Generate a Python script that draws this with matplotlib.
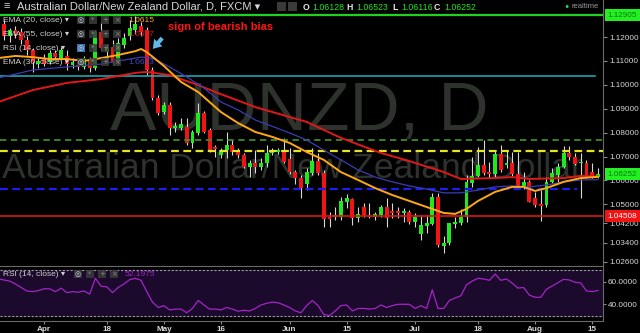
import numpy as np
import pandas as pd
import matplotlib
matplotlib.use("Agg")
import matplotlib.pyplot as plt
import matplotlib.transforms as mtrans
from matplotlib.patches import Rectangle

plt.rcParams['font.family'] = ['Liberation Sans', 'DejaVu Sans']

W, H = 640, 333

# daily AUDNZD candles, 22 Mar 2016 .. 16 Aug 2016 (weekdays)
dates = pd.bdate_range('2016-03-22', '2016-08-16')

opens = [1.1263, 1.1255, 1.1204, 1.1229, 1.1221, 1.1188, 1.1146, 1.1087,
         1.1112, 1.1096, 1.1133, 1.1112, 1.1121, 1.1083, 1.1083, 1.1075, 1.1104, 1.1070,
         1.1221, 1.1137, 1.1158, 1.1096, 1.1167, 1.1204, 1.1229, 1.1246, 1.1229, 1.1062,
         1.0945, 1.0886, 1.0916, 1.0819, 1.0819, 1.0824, 1.0757, 1.0799, 1.0882, 1.0811,
         1.0740, 1.0706, 1.0727, 1.0748, 1.0719, 1.0706, 1.0656, 1.0673, 1.0656, 1.0673,
         1.0715, 1.0719, 1.0723, 1.0690, 1.0635, 1.0610, 1.0585, 1.0631, 1.0681, 1.0631,
         1.0447, 1.0447, 1.0447, 1.0510, 1.0522, 1.0443, 1.0489, 1.0455, 1.0447, 1.0455,
         1.0489, 1.0472, 1.0472, 1.0464, 1.0468, 1.0426, 1.0376, 1.0409, 1.0418, 1.0531,
         1.0326, 1.0338, 1.0418, 1.0422, 1.0447, 1.0589, 1.0619, 1.0665, 1.0635, 1.0627,
         1.0711, 1.0665, 1.0673, 1.0627, 1.0573, 1.0594, 1.0527, 1.0501, 1.0497, 1.0594,
         1.0623, 1.0656, 1.0715, 1.0698, 1.0673, 1.0673, 1.0635, 1.06128]
highs = [1.1280, 1.1271, 1.1238, 1.1246, 1.1238, 1.1204, 1.1154, 1.1112,
         1.1129, 1.1146, 1.1146, 1.1158, 1.1146, 1.1112, 1.1104, 1.1121, 1.1116, 1.1229,
         1.1263, 1.1171, 1.1188, 1.1196, 1.1217, 1.1271, 1.1290, 1.1263, 1.1242, 1.1075,
         1.0958, 1.0928, 1.0928, 1.0845, 1.0861, 1.0861, 1.0811, 1.0924, 1.0891, 1.0819,
         1.0748, 1.0736, 1.0803, 1.0769, 1.0736, 1.0715, 1.0686, 1.0727, 1.0694, 1.0748,
         1.0736, 1.0736, 1.0778, 1.0736, 1.0644, 1.0623, 1.0652, 1.0736, 1.0715, 1.0644,
         1.0468, 1.0489, 1.0531, 1.0543, 1.0527, 1.0489, 1.0506, 1.0506, 1.0468, 1.0497,
         1.0527, 1.0506, 1.0489, 1.0485, 1.0476, 1.0464, 1.0455, 1.0455, 1.0548, 1.0548,
         1.0368, 1.0422, 1.0447, 1.0481, 1.0623, 1.0698, 1.0740, 1.0769, 1.0677, 1.0727,
         1.0748, 1.0727, 1.0719, 1.0719, 1.0635, 1.0602, 1.0552, 1.0560, 1.0614, 1.0652,
         1.0673, 1.0744, 1.0744, 1.0715, 1.0715, 1.0686, 1.0673, 1.06523]
lows = [1.1196, 1.1188, 1.1179, 1.1196, 1.1171, 1.1125, 1.1054, 1.1070,
        1.1079, 1.1087, 1.1104, 1.1104, 1.1062, 1.1070, 1.1062, 1.1066, 1.1054, 1.1062,
        1.1146, 1.1091, 1.1083, 1.1087, 1.1154, 1.1188, 1.1213, 1.1204, 1.1041, 1.0937,
        1.0874, 1.0878, 1.0790, 1.0803, 1.0811, 1.0748, 1.0736, 1.0790, 1.0799, 1.0719,
        1.0698, 1.0694, 1.0694, 1.0706, 1.0694, 1.0652, 1.0614, 1.0631, 1.0644, 1.0656,
        1.0706, 1.0711, 1.0673, 1.0627, 1.0585, 1.0527, 1.0560, 1.0623, 1.0623, 1.0405,
        1.0405, 1.0435, 1.0435, 1.0485, 1.0414, 1.0426, 1.0447, 1.0443, 1.0435, 1.0447,
        1.0405, 1.0443, 1.0443, 1.0426, 1.0418, 1.0405, 1.0351, 1.0380, 1.0414, 1.0322,
        1.0296, 1.0330, 1.0401, 1.0414, 1.0426, 1.0573, 1.0614, 1.0623, 1.0610, 1.0614,
        1.0635, 1.0652, 1.0619, 1.0568, 1.0564, 1.0510, 1.0489, 1.0430, 1.0489, 1.0589,
        1.0594, 1.0652, 1.0686, 1.0665, 1.0527, 1.0610, 1.0610, 1.06116]
closes = [1.1213, 1.1204, 1.1229, 1.1213, 1.1188, 1.1146, 1.1096, 1.1100,
          1.1087, 1.1133, 1.1116, 1.1146, 1.1087, 1.1096, 1.1075, 1.1108, 1.1070, 1.1221,
          1.1154, 1.1154, 1.1096, 1.1175, 1.1196, 1.1238, 1.1255, 1.1221, 1.1062, 1.0945,
          1.0882, 1.0916, 1.0819, 1.0828, 1.0836, 1.0757, 1.0803, 1.0882, 1.0803, 1.0727,
          1.0732, 1.0727, 1.0748, 1.0719, 1.0706, 1.0656, 1.0673, 1.0656, 1.0673, 1.0715,
          1.0727, 1.0727, 1.0677, 1.0635, 1.0610, 1.0568, 1.0635, 1.0681, 1.0631, 1.0439,
          1.0439, 1.0455, 1.0514, 1.0527, 1.0443, 1.0460, 1.0455, 1.0447, 1.0460, 1.0489,
          1.0443, 1.0464, 1.0464, 1.0472, 1.0426, 1.0447, 1.0414, 1.0422, 1.0531, 1.0330,
          1.0338, 1.0422, 1.0426, 1.0447, 1.0594, 1.0619, 1.0665, 1.0631, 1.0627, 1.0711,
          1.0644, 1.0673, 1.0627, 1.0573, 1.0594, 1.0510, 1.0497, 1.0493, 1.0594, 1.0631,
          1.0656, 1.0715, 1.0698, 1.0669, 1.0677, 1.0614, 1.0614, 1.06252]

# moving averages (bar position, value)
ema20_pos = [0, 3, 6, 9, 12, 15, 18, 21, 24, 25, 26, 29, 32, 35, 37, 39, 42, 45, 48, 51,
             54, 57, 60, 63, 66, 69, 72, 75, 78, 80, 82, 84, 87, 90, 92, 94, 96, 99, 102, 105]
ema20_val = [1.1112, 1.1121, 1.1116, 1.1108, 1.1108, 1.1100, 1.1112, 1.1125, 1.1141, 1.1150,
             1.1137, 1.1079, 1.1012, 1.0970, 1.0928, 1.0886, 1.0840, 1.0803, 1.0782, 1.0757,
             1.0719, 1.0686, 1.0635, 1.0602, 1.0568, 1.0539, 1.0514, 1.0489, 1.0464, 1.0460,
             1.0481, 1.0514, 1.0552, 1.0573, 1.0573, 1.0556, 1.0568, 1.0594, 1.0610, 1.0615]
ema55_pos = [0, 6, 12, 18, 24, 26, 30, 35, 38, 45, 54, 60, 67, 72, 78, 81, 87, 90, 93, 99, 102, 105]
ema55_val = [1.0928, 1.0978, 1.1008, 1.1024, 1.1050, 1.1054, 1.1041, 1.0999, 1.0970, 1.0907,
             1.0845, 1.0778, 1.0715, 1.0681, 1.0635, 1.0606, 1.0610, 1.0614, 1.0606, 1.0610,
             1.0619, 1.0617]
ema30_pos = [0, 3, 6, 12, 18, 24, 25, 27, 30, 33, 36, 39, 42, 45, 51, 54, 57, 60, 63, 66,
             69, 72, 75, 78, 81, 84, 87, 90, 93, 96, 99, 102, 105]
ema30_val = [1.1029, 1.1045, 1.1062, 1.1075, 1.1087, 1.1112, 1.1116, 1.1112, 1.1075, 1.1033,
             1.0987, 1.0928, 1.0895, 1.0853, 1.0799, 1.0769, 1.0727, 1.0686, 1.0644, 1.0614,
             1.0594, 1.0577, 1.0564, 1.0548, 1.0548, 1.0560, 1.0573, 1.0577, 1.0573, 1.0581,
             1.0594, 1.0602, 1.0603]

rsi = [62.4, 61.5, 60.5, 58.0, 54.9, 51.8, 51.2, 52.1,
       53.7, 53.7, 51.2, 54.3, 50.3, 51.2, 50.6, 51.8, 49.0, 63.0,
       55.9, 55.5, 50.3, 54.9, 58.0, 61.8, 63.0, 61.2, 51.2, 41.9,
       37.2, 38.8, 35.0, 35.7, 35.7, 32.5, 36.3, 43.4, 39.4, 35.7,
       35.7, 35.0, 37.2, 35.7, 33.8, 34.7, 34.1, 36.3, 39.4, 40.9,
       41.9, 41.3, 39.4, 37.2, 34.1, 32.5, 38.8, 43.4, 38.8, 31.0,
       30.0, 34.1, 38.8, 39.4, 34.1, 36.3, 36.3, 35.7, 36.3, 39.4,
       37.2, 38.8, 40.0, 40.0, 40.0, 36.3, 38.8, 36.3, 52.8, 36.3,
       36.3, 43.4, 45.6, 47.5, 57.4, 60.5, 63.0, 62.4, 61.2, 66.8,
       61.2, 62.4, 58.7, 54.3, 54.9, 48.1, 46.2, 46.2, 53.3, 56.2,
       59.1, 62.1, 61.5, 59.5, 58.9, 51.8, 51.2, 52.2]

# horizontal levels
level_top = 1.12905
level_cyan = 1.1037
level_green = 1.0769
level_yellow = 1.0723
level_blue = 1.0564
level_red = 1.04508

price_ticks = [1.12, 1.11, 1.10, 1.09, 1.08, 1.07, 1.06, 1.05, 1.042, 1.034, 1.026]
tick_dates = ['2016-04-01', '2016-04-18', '2016-05-02', '2016-05-16', '2016-06-01',
              '2016-06-15', '2016-07-01', '2016-07-18', '2016-08-01', '2016-08-15']
tick_labels = ['Apr', '18', 'May', '16', 'Jun', '15', 'Jul', '18', 'Aug', '15']


def fx(px):
    return px / W


def fy(py):
    return 1 - py / H


fig = plt.figure(figsize=(6.4, 3.33), dpi=100, facecolor='black')
ax = fig.add_axes([0, fy(266), fx(603), 266 / H], facecolor='black')
rax = fig.add_axes([0, fy(321), fx(603), 54 / H], facecolor='black')
rax.set_zorder(3)

x = np.arange(len(dates))
o = np.array(opens)
hh = np.array(highs)
ll = np.array(lows)
c = np.array(closes)
up = c >= o
cols = np.where(up, '#1ee81e', '#f01414')

ax.vlines(x, ll, hh, color='#d8d8d8', lw=0.8, zorder=2)
ax.bar(x, np.maximum(np.abs(c - o), 0.00018), bottom=np.minimum(o, c), width=0.68,
       color=cols, zorder=3)

# levels
ax.axhline(level_top, color='#1ed21e', lw=1.6, zorder=3.5)
ax.axhline(level_cyan, xmax=0.987, color='#1eb4be', lw=1.1, zorder=3.5)
ax.axhline(level_green, color='#3c8c28', lw=1.3, dashes=(3.5, 2.5), zorder=3.5)
ax.axhline(level_yellow, color='#e6e61e', lw=1.6, dashes=(3.5, 2), zorder=3.5)
ax.axhline(level_blue, xmax=0.957, color='#1e1ef0', lw=1.6, dashes=(3.5, 2), zorder=3.5)
ax.axhline(level_red, color='#dc1414', lw=1.2, zorder=3.5)

ax.plot(ema55_pos, ema55_val, color='#e01818', lw=1.4, zorder=4)
ax.plot(ema30_pos, ema30_val, color='#3c3cb4', lw=0.9, zorder=4)
ax.plot(ema20_pos, ema20_val, color='#ffa814', lw=1.4, zorder=4.2)

xl = (8 - 44 / 5.71, 8 + (603 - 44) / 5.71)
ax.set_xlim(*xl)
ax.set_ylim(1.0242, 1.1355)

# watermark
ax.text(110 / 603, 1 - 130 / 266, 'AUDNZD, D', transform=ax.transAxes, fontsize=50,
        color='#2e322d', ha='left', va='baseline', zorder=0.5)
ax.text(2 / 603, 1 - 178 / 266, 'Australian Dollar/New Zealand Dollar', transform=ax.transAxes,
        fontsize=25.5, color='#2e322d', ha='left', va='baseline', zorder=0.5)

ax.yaxis.tick_right()
ax.set_yticks(price_ticks)
ax.set_yticklabels(['%.5f' % v for v in price_ticks])
ax.tick_params(axis='y', colors='#8a8a8a', labelcolor='#d6d6d6', labelsize=5.9, length=3, pad=1.5)
ax.set_xticks([])
for s in ['left', 'top']:
    ax.spines[s].set_visible(False)
for s in ['right', 'bottom']:
    ax.spines[s].set_color('#6a6a6a')

# price badges on the axis
bt = mtrans.blended_transform_factory(ax.transAxes, ax.transData)
ax.text(1.008, level_top, '%.5f' % level_top, transform=bt, fontsize=5.9, color='#0c7a0c',
        va='center', ha='left', clip_on=False, zorder=6,
        bbox=dict(boxstyle='square,pad=0.3', fc='#22f022', ec='none'))
ax.text(1.008, closes[-1], '%.5f' % closes[-1], transform=bt, fontsize=5.9, color='#0c7a0c',
        va='center', ha='left', clip_on=False, zorder=6,
        bbox=dict(boxstyle='square,pad=0.3', fc='#22f022', ec='none'))
ax.text(1.008, level_red, '%.5f' % level_red, transform=bt, fontsize=5.9, color='white',
        va='center', ha='left', clip_on=False, zorder=6,
        bbox=dict(boxstyle='square,pad=0.3', fc='#f01414', ec='none'))

# RSI pane
rax.axhspan(30, 70, color='#1b0a2c', zorder=0)
rax.axhline(70, color='#9a9a9a', lw=0.8, dashes=(2, 1.5))
rax.axhline(30, color='#9a9a9a', lw=0.8, dashes=(2, 1.5))
rax.plot(x, rsi, color='#a424c8', lw=0.9, zorder=3)
rax.set_xlim(*xl)
rax.set_ylim(25.2, 73.0)
rax.yaxis.tick_right()
rax.set_yticks([60, 40])
rax.set_yticklabels(['60.0000', '40.0000'])
tick_pos = [list(dates).index(pd.Timestamp(d)) for d in tick_dates]
rax.set_xticks(tick_pos)
rax.set_xticklabels(tick_labels, fontweight='bold')
rax.tick_params(colors='#8a8a8a', labelcolor='#d6d6d6', labelsize=5.9, length=2, pad=1.5)
for s in ['left', 'top']:
    rax.spines[s].set_visible(False)
for s in ['right', 'bottom']:
    rax.spines[s].set_color('#6a6a6a')

# cover main price labels below the pane separator
fig.patches.append(Rectangle((fx(604), 0), fx(36), fy(267), transform=fig.transFigure,
                             fc='black', ec='none', zorder=2))

# header
fig.text(fx(3), fy(6.5), '\u2261', color='#c8c8c8', fontsize=8, va='center')
fig.text(fx(17), fy(6.5), 'Australian Dollar/New Zealand Dollar, D, FXCM \u25be',
         color='#d6d6d6', fontsize=8, va='center')
for bx in [277, 288]:
    fig.patches.append(Rectangle((fx(bx), fy(11)), fx(9), 9 / H, transform=fig.transFigure,
                                 fc='#3a3a3a', ec='none'))
ohlc = [('O', 303, '1.06128', 312), ('H', 346, '1.06523', 356),
        ('L', 392, '1.06116', 401), ('C', 434, '1.06252', 444)]
for lab, lx, val, vx in ohlc:
    fig.text(fx(lx), fy(7), lab, color='#e6e6e6', fontsize=6.3, fontweight='bold', va='center')
    fig.text(fx(vx), fy(7), val, color='#1ee81e', fontsize=6.3, va='center')
fig.text(fx(567), fy(6.5), '\u25cf', color='#2ecc71', fontsize=5, va='center', ha='center')
fig.text(fx(572), fy(6.5), 'realtime', color='#9a9a9a', fontsize=5.5, va='center')


def icon_row(x0, y, blue_first=False):
    glyphs = ['\u25ce', '*', '+', '\u00d7']
    for k, g in enumerate(glyphs):
        bx = x0 + 12 * k
        fc = '#4a8ad0' if (k == 0 and blue_first) else '#3c3c3c'
        fig.patches.append(Rectangle((fx(bx), fy(y + 4)), fx(8), 8 / H, transform=fig.transFigure,
                                     fc=fc, ec='none', alpha=0.85, zorder=5))
        fig.text(fx(bx + 4), fy(y), g, color='#8c8c8c' if k else '#cfe2f5', fontsize=5,
                 ha='center', va='center', zorder=6, family='DejaVu Sans')


legend = [('EMA (20, close) \u25be', 20, '1.0615', '#ffa814', False),
          ('EMA (55, close) \u25be', 34, '1.0617', '#e01818', False),
          ('RSI (14, close) \u25be', 48, None, None, True),
          ('EMA (30, close) \u25be', 62, '1.0603', '#4848c8', False)]
for txt, ly, val, vc, blue in legend:
    fig.text(fx(3), fy(ly), txt, color='#cfcfcf', fontsize=6, va='center', zorder=6)
    icon_row(77, ly, blue)
    if val:
        fig.text(fx(128), fy(ly), val, color=vc, fontsize=6, va='center', zorder=6)

fig.text(fx(3), fy(274), 'RSI (14, close) \u25be', color='#cfcfcf', fontsize=6, va='center',
         zorder=6)
icon_row(74, 274)
fig.text(fx(125), fy(274), '52.1975', color='#a424c8', fontsize=6, va='center', zorder=6)

# annotation
fig.text(fx(168), fy(27), 'sign of bearish bias', color='#ff1414', fontsize=8,
         fontweight='bold', va='center')
ax.annotate('', xy=(151, H - 51), xytext=(164, H - 36), xycoords='figure pixels',
            textcoords='figure pixels',
            arrowprops=dict(arrowstyle='simple,head_width=0.8,head_length=0.6,tail_width=0.3',
                            color='#5fb8e8', lw=0))

fig.savefig('out.png', dpi=100, facecolor='black')
